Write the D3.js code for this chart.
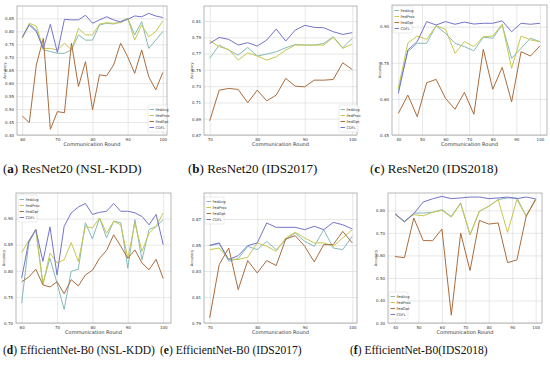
<!DOCTYPE html>
<html>
<head>
<meta charset="utf-8">
<script src="https://cdn.jsdelivr.net/npm/d3@7"></script>
<style>
  body { margin: 0; background: #fff; }
  .caption { font-family: 'Liberation Serif', 'DejaVu Serif', serif; fill: #111; }
  .tick text { font-family: 'DejaVu Sans', sans-serif; font-size: 4px; fill: #333; }
  .tick line { stroke: #d6d6d6; stroke-width: 0.6; }
  .axis-label { font-family: 'DejaVu Sans', sans-serif; fill: #333; }
  .legend text { font-family: 'DejaVu Sans', sans-serif; font-size: 3.6px; fill: #333; }
</style>
</head>
<body>
<svg id="chart" width="550" height="366"></svg>
<script>
const seriesNames = ['FedAvg', 'FedProx', 'FedOpt', 'CDFL'];
const seriesColors = ['#86b9b9', '#c6c84c', '#ab6c3c', '#7474cc'];

// communication rounds
const roundsA = [60, 62, 64, 66, 68, 70, 72, 74, 76, 78, 80, 82, 84, 86, 88, 90, 92, 94, 96, 98, 100];
const roundsB = [70, 72, 74, 76, 78, 80, 82, 84, 86, 88, 90, 92, 94, 96, 98, 100];
const roundsC = [40, 44, 48, 52, 56, 60, 64, 68, 72, 76, 80, 84, 88, 92, 96, 100];

// (a) ResNet20 NSL-KDD
const aFedAvg = [0.777, 0.828, 0.805, 0.728, 0.722, 0.715, 0.715, 0.728, 0.786, 0.766, 0.766, 0.824, 0.831, 0.828, 0.838, 0.850, 0.786, 0.837, 0.734, 0.766, 0.799];
const aFedProx = [0.773, 0.831, 0.820, 0.734, 0.734, 0.728, 0.754, 0.728, 0.811, 0.786, 0.786, 0.828, 0.833, 0.831, 0.833, 0.850, 0.766, 0.824, 0.779, 0.799, 0.840];
const aFedOpt = [0.473, 0.448, 0.670, 0.773, 0.422, 0.490, 0.486, 0.754, 0.587, 0.683, 0.497, 0.632, 0.628, 0.670, 0.754, 0.702, 0.638, 0.728, 0.625, 0.574, 0.641];
const aCDFL = [0.777, 0.824, 0.799, 0.734, 0.827, 0.718, 0.846, 0.844, 0.844, 0.862, 0.831, 0.844, 0.856, 0.844, 0.836, 0.846, 0.859, 0.856, 0.869, 0.859, 0.853];

// (b) ResNet20 IDS2017
const bFedAvg = [0.7641, 0.7805, 0.7743, 0.7682, 0.7776, 0.7670, 0.7694, 0.7723, 0.7772, 0.7813, 0.7805, 0.7805, 0.7825, 0.7907, 0.7772, 0.7887];
const bFedProx = [0.7858, 0.7784, 0.7751, 0.7620, 0.7710, 0.7670, 0.7620, 0.7661, 0.7743, 0.7805, 0.7805, 0.7805, 0.7805, 0.7899, 0.7764, 0.7817];
const bFedOpt = [0.6874, 0.7251, 0.7272, 0.7260, 0.7096, 0.7251, 0.7120, 0.7190, 0.7395, 0.7300, 0.7292, 0.7374, 0.7374, 0.7382, 0.7587, 0.7505];
const bCDFL = [0.7825, 0.7899, 0.7875, 0.7805, 0.7834, 0.7793, 0.7866, 0.8002, 0.7854, 0.7989, 0.8047, 0.8022, 0.8018, 0.7969, 0.7936, 0.7957];

// (c) ResNet20 IDS2018
const cFedAvg = [0.637, 0.796, 0.831, 0.831, 0.904, 0.872, 0.831, 0.817, 0.800, 0.856, 0.852, 0.907, 0.768, 0.810, 0.852, 0.838];
const cFedProx = [0.644, 0.831, 0.861, 0.847, 0.904, 0.889, 0.789, 0.838, 0.817, 0.858, 0.861, 0.910, 0.727, 0.861, 0.845, 0.838];
const cFedOpt = [0.540, 0.616, 0.526, 0.667, 0.681, 0.602, 0.557, 0.627, 0.536, 0.806, 0.640, 0.731, 0.588, 0.796, 0.778, 0.820];
const cCDFL = [0.623, 0.803, 0.838, 0.921, 0.907, 0.921, 0.910, 0.919, 0.911, 0.914, 0.914, 0.924, 0.879, 0.914, 0.910, 0.914];

// (d) EfficientNet-B0 NSL-KDD
const dFedAvg = [0.738, 0.853, 0.879, 0.776, 0.824, 0.776, 0.726, 0.799, 0.803, 0.892, 0.861, 0.901, 0.863, 0.895, 0.892, 0.805, 0.898, 0.821, 0.879, 0.885, 0.898];
const dFedProx = [0.835, 0.858, 0.879, 0.773, 0.834, 0.815, 0.821, 0.854, 0.818, 0.885, 0.882, 0.901, 0.872, 0.895, 0.888, 0.824, 0.892, 0.837, 0.872, 0.885, 0.911];
const dFedOpt = [0.779, 0.788, 0.803, 0.773, 0.769, 0.779, 0.756, 0.783, 0.771, 0.792, 0.801, 0.824, 0.839, 0.869, 0.847, 0.824, 0.840, 0.815, 0.802, 0.822, 0.785];
const dCDFL = [0.786, 0.856, 0.879, 0.818, 0.884, 0.792, 0.885, 0.911, 0.922, 0.929, 0.908, 0.912, 0.914, 0.929, 0.914, 0.914, 0.911, 0.904, 0.888, 0.908, 0.850];

// (e) EfficientNet-B0 IDS2017
const eFedAvg = [0.8495, 0.8511, 0.8375, 0.8395, 0.8490, 0.8464, 0.8528, 0.8464, 0.8541, 0.8592, 0.8528, 0.8490, 0.8618, 0.8477, 0.8464, 0.8567];
const eFedProx = [0.8464, 0.8477, 0.8393, 0.8388, 0.8406, 0.8516, 0.8490, 0.8452, 0.8554, 0.8598, 0.8554, 0.8516, 0.8516, 0.8490, 0.8554, 0.8618];
const eFedOpt = [0.7940, 0.8349, 0.8477, 0.8157, 0.8380, 0.8285, 0.8380, 0.8342, 0.8546, 0.8572, 0.8490, 0.8370, 0.8503, 0.8503, 0.8605, 0.8516];
const eCDFL = [0.8498, 0.8516, 0.8388, 0.8418, 0.8495, 0.8516, 0.8669, 0.8636, 0.8636, 0.8636, 0.8618, 0.8644, 0.8618, 0.8674, 0.8656, 0.8623];

// (f) EfficientNet-B0 IDS2018
const fFedAvg = [0.785, 0.747, 0.788, 0.788, 0.791, 0.803, 0.773, 0.833, 0.692, 0.796, 0.818, 0.848, 0.855, 0.855, 0.773, 0.851];
const fFedProx = [0.781, 0.751, 0.781, 0.776, 0.791, 0.800, 0.770, 0.830, 0.692, 0.796, 0.818, 0.848, 0.702, 0.848, 0.773, 0.848];
const fFedOpt = [0.595, 0.590, 0.766, 0.666, 0.665, 0.717, 0.335, 0.699, 0.533, 0.755, 0.739, 0.744, 0.568, 0.580, 0.776, 0.848];
const fCDFL = [0.785, 0.751, 0.785, 0.837, 0.851, 0.862, 0.852, 0.855, 0.859, 0.859, 0.852, 0.855, 0.859, 0.852, 0.859, 0.851];

const captions = [
  ['a', 'ResNet20 (NSL-KDD)'], ['b', 'ResNet20 (IDS2017)'], ['c', 'ResNet20 (IDS2018)'],
  ['d', 'EfficientNet-B0 (NSL-KDD)'], ['e', 'EfficientNet-B0 (IDS2017)'], ['f', 'EfficientNet-B0(IDS2018)']
];

const panels = [
  { box: [17, 6, 167, 135], xDom: [58.5, 101.2], xTicks: [60, 70, 80, 90, 100], yDom: [0.40, 0.8975],
    yTicks: [0.40, 0.45, 0.50, 0.55, 0.60, 0.65, 0.70, 0.75, 0.80, 0.85], rounds: roundsA,
    series: [aFedAvg, aFedProx, aFedOpt, aCDFL], legend: [148, 105], cap: [3, 173, 13] },
  { box: [204, 6, 357, 135], xDom: [68.8, 101.0], xTicks: [70, 80, 90, 100], yDom: [0.67, 0.8285],
    yTicks: [0.67, 0.69, 0.71, 0.73, 0.75, 0.77, 0.79, 0.81], rounds: roundsB,
    series: [bFedAvg, bFedProx, bFedOpt, bCDFL], legend: [339, 105], cap: [188, 173, 13] },
  { box: [392, 5, 547, 135], xDom: [37.3, 103], xTicks: [40, 50, 60, 70, 80, 90, 100], yDom: [0.45, 0.99],
    yTicks: [0.45, 0.60, 0.75, 0.90], rounds: roundsC,
    series: [cFedAvg, cFedProx, cFedOpt, cCDFL], legend: [393, 6], cap: [370, 173, 13] },
  { box: [16, 193, 171, 323], xDom: [58.4, 102.2], xTicks: [60, 70, 80, 90, 100], yDom: [0.70, 0.949],
    yTicks: [0.70, 0.75, 0.80, 0.85, 0.90], rounds: roundsA,
    series: [dFedAvg, dFedProx, dFedOpt, dCDFL], legend: [18, 195], cap: [3, 354, 11.5] },
  { box: [204, 193, 357, 323], xDom: [68.8, 101.0], xTicks: [70, 80, 90, 100], yDom: [0.79, 0.89],
    yTicks: [0.79, 0.81, 0.83, 0.85, 0.87], rounds: roundsB,
    series: [eFedAvg, eFedProx, eFedOpt, eCDFL], legend: [205, 197], cap: [160, 354, 11.5] },
  { box: [388, 193, 542, 323], xDom: [37.0, 102.7], xTicks: [40, 50, 60, 70, 80, 90, 100], yDom: [0.30, 0.877],
    yTicks: [0.30, 0.40, 0.50, 0.60, 0.70, 0.80], rounds: roundsC,
    series: [fFedAvg, fFedProx, fFedOpt, fCDFL], legend: [389, 292], cap: [350, 354, 11.5] }
];

const svg = d3.select('#chart');

panels.forEach((p, pi) => {
  const [x0, y0, x1, y1] = p.box;
  const x = d3.scaleLinear().domain(p.xDom).range([x0, x1]);
  const y = d3.scaleLinear().domain(p.yDom).range([y1, y0]);
  const g = svg.append('g');

  g.append('g')
    .attr('transform', `translate(0,${y1})`)
    .call(d3.axisBottom(x).tickValues(p.xTicks).tickFormat(d3.format('d'))
      .tickSizeInner(-(y1 - y0)).tickSizeOuter(0).tickPadding(3))
    .call(a => a.select('.domain').remove());

  g.append('g')
    .attr('transform', `translate(${x0},0)`)
    .call(d3.axisLeft(y).tickValues(p.yTicks).tickFormat(d3.format('.2f'))
      .tickSizeInner(-(x1 - x0)).tickSizeOuter(0).tickPadding(3))
    .call(a => a.select('.domain').remove());

  g.append('rect')
    .attr('x', x0).attr('y', y0)
    .attr('width', x1 - x0).attr('height', y1 - y0)
    .attr('fill', 'none').attr('stroke', '#999').attr('stroke-width', 0.7);

  const line = d3.line().x((d, i) => x(p.rounds[i])).y(d => y(d));
  p.series.forEach((s, si) => {
    g.append('path')
      .datum(s)
      .attr('d', line)
      .attr('fill', 'none')
      .attr('stroke', seriesColors[si])
      .attr('stroke-width', 1);
  });

  g.append('text')
    .attr('class', 'axis-label')
    .attr('x', (x0 + x1) / 2).attr('y', y1 + 11)
    .attr('text-anchor', 'middle')
    .style('font-size', '5px')
    .text('Communication Round');

  g.append('text')
    .attr('class', 'axis-label')
    .attr('transform', `translate(${x0 - 11},${(y0 + y1) / 2}) rotate(-90)`)
    .attr('text-anchor', 'middle')
    .style('font-size', '3.6px')
    .text('Accuracy');

  const lg = g.append('g').attr('class', 'legend')
    .attr('transform', `translate(${p.legend[0]},${p.legend[1]})`);
  lg.append('rect')
    .attr('width', 19).attr('height', 27).attr('rx', 1)
    .attr('fill', '#fff').attr('fill-opacity', 0.85)
    .attr('stroke', '#ccc').attr('stroke-width', 0.4);
  seriesNames.forEach((name, si) => {
    const ly = 4.5 + si * 6;
    lg.append('line')
      .attr('x1', 1.5).attr('x2', 6).attr('y1', ly).attr('y2', ly)
      .attr('stroke', seriesColors[si]).attr('stroke-width', 1);
    lg.append('text')
      .attr('x', 7.5).attr('y', ly + 1.3)
      .text(name);
  });

  const cap = svg.append('text').attr('class', 'caption')
    .attr('x', p.cap[0]).attr('y', p.cap[1])
    .style('font-size', p.cap[2] + 'px');
  cap.append('tspan').text('(');
  cap.append('tspan').attr('font-weight', 'bold').text(captions[pi][0]);
  cap.append('tspan').text(') ' + captions[pi][1]);
});
</script>
</body>
</html>
